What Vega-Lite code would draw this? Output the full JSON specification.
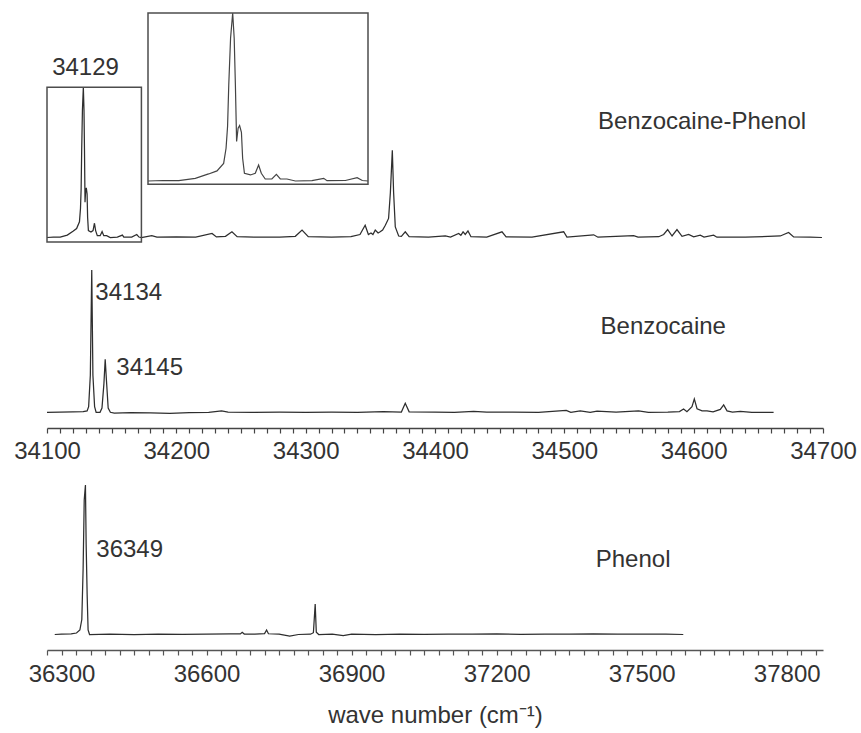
{
  "$schema": "https://vega.github.io/schema/vega-lite/v6.json",
  "padding": {"left": 13, "top": 0, "right": 5, "bottom": 5},
  "config": {"view": {"stroke": null}, "font": "Liberation Sans"},
  "datasets": {
    "bp": [
      {"w": 34100, "i": 0}, {"w": 34105, "i": 0.003}, {"w": 34110.2, "i": 0.002}, {"w": 34115.7, "i": 0.016},
      {"w": 34120.1, "i": 0.042}, {"w": 34122.9, "i": 0.06}, {"w": 34125.1, "i": 0.105}, {"w": 34125.9, "i": 0.195},
      {"w": 34126.4, "i": 0.324}, {"w": 34126.8, "i": 0.573}, {"w": 34127.4, "i": 0.851}, {"w": 34128.1, "i": 1.0},
      {"w": 34128.6, "i": 0.85}, {"w": 34129.0, "i": 0.57}, {"w": 34129.4, "i": 0.235}, {"w": 34129.9, "i": 0.314},
      {"w": 34130.4, "i": 0.33}, {"w": 34131.0, "i": 0.29}, {"w": 34131.4, "i": 0.135}, {"w": 34132.0, "i": 0.046},
      {"w": 34134.0, "i": 0.036}, {"w": 34135.6, "i": 0.046}, {"w": 34136.7, "i": 0.095}, {"w": 34137.6, "i": 0.046},
      {"w": 34138.9, "i": 0.012}, {"w": 34141.1, "i": 0.012}, {"w": 34142.6, "i": 0.04}, {"w": 34143.9, "i": 0.012},
      {"w": 34146.1, "i": 0.012}, {"w": 34148.9, "i": 0}, {"w": 34154.4, "i": 0.002}, {"w": 34158.3, "i": 0.016},
      {"w": 34159.4, "i": 0.002}, {"w": 34165.5, "i": 0.003}, {"w": 34169.4, "i": 0.02}, {"w": 34171.1, "i": 0.003},
      {"w": 34173, "i": 0}, {"w": 34181, "i": 0.012}, {"w": 34185, "i": 0.002}, {"w": 34200, "i": 0.004},
      {"w": 34215, "i": 0.002}, {"w": 34227.6, "i": 0.027}, {"w": 34231, "i": 0.004}, {"w": 34238, "i": 0.008},
      {"w": 34243, "i": 0.038}, {"w": 34247, "i": 0.006}, {"w": 34260, "i": 0.003}, {"w": 34280, "i": 0.002},
      {"w": 34292, "i": 0.008}, {"w": 34297.2, "i": 0.049}, {"w": 34302, "i": 0.005}, {"w": 34320, "i": 0.002},
      {"w": 34335, "i": 0.006}, {"w": 34342, "i": 0.02}, {"w": 34346, "i": 0.082}, {"w": 34348.5, "i": 0.02},
      {"w": 34350.5, "i": 0.03}, {"w": 34352, "i": 0.02}, {"w": 34353.8, "i": 0.049}, {"w": 34356, "i": 0.03},
      {"w": 34357.6, "i": 0.038}, {"w": 34359.5, "i": 0.05}, {"w": 34361.6, "i": 0.082}, {"w": 34364.1, "i": 0.127},
      {"w": 34365.5, "i": 0.3}, {"w": 34367, "i": 0.58}, {"w": 34368, "i": 0.3}, {"w": 34369.3, "i": 0.07},
      {"w": 34371.9, "i": 0.01}, {"w": 34374, "i": 0.008}, {"w": 34377, "i": 0.038}, {"w": 34380, "i": 0.005},
      {"w": 34395, "i": 0.003}, {"w": 34408, "i": 0.01}, {"w": 34412, "i": 0.003}, {"w": 34418.3, "i": 0.027},
      {"w": 34420, "i": 0.015}, {"w": 34421.7, "i": 0.038}, {"w": 34423.4, "i": 0.02}, {"w": 34425.5, "i": 0.044},
      {"w": 34427.8, "i": 0.005}, {"w": 34440, "i": 0.002}, {"w": 34451.8, "i": 0.038}, {"w": 34455, "i": 0.004},
      {"w": 34475, "i": 0.002}, {"w": 34499.5, "i": 0.038}, {"w": 34502, "i": 0.003}, {"w": 34522.7, "i": 0.018},
      {"w": 34526, "i": 0.002}, {"w": 34553.6, "i": 0.012}, {"w": 34557, "i": 0.002}, {"w": 34573, "i": 0.005},
      {"w": 34576.8, "i": 0.02}, {"w": 34579.9, "i": 0.053}, {"w": 34583.3, "i": 0.01}, {"w": 34587.1, "i": 0.053},
      {"w": 34591, "i": 0.008}, {"w": 34596.1, "i": 0.02}, {"w": 34600, "i": 0.004}, {"w": 34605.1, "i": 0.015},
      {"w": 34608, "i": 0.003}, {"w": 34615.4, "i": 0.016}, {"w": 34618, "i": 0.002}, {"w": 34640, "i": 0.002},
      {"w": 34667, "i": 0.01}, {"w": 34673.4, "i": 0.033}, {"w": 34677.3, "i": 0.004}, {"w": 34690, "i": 0.002},
      {"w": 34699.2, "i": 0}
    ],
    "bz": [
      {"w": 34100, "i": 0}, {"w": 34110, "i": 0.002}, {"w": 34120, "i": 0.003}, {"w": 34128, "i": 0.004},
      {"w": 34131, "i": 0.01}, {"w": 34132.2, "i": 0.04}, {"w": 34133.5, "i": 0.26}, {"w": 34134.6, "i": 1.0},
      {"w": 34135.5, "i": 0.26}, {"w": 34136.8, "i": 0.04}, {"w": 34138, "i": 0.0}, {"w": 34141, "i": 0.0},
      {"w": 34142.5, "i": 0.03}, {"w": 34144, "i": 0.2}, {"w": 34145, "i": 0.372}, {"w": 34146, "i": 0.22},
      {"w": 34147.3, "i": 0.03}, {"w": 34149, "i": 0.0}, {"w": 34152, "i": -0.005}, {"w": 34165, "i": -0.003},
      {"w": 34180, "i": -0.004}, {"w": 34195, "i": -0.008}, {"w": 34210, "i": -0.002}, {"w": 34225, "i": 0.0},
      {"w": 34235, "i": 0.01}, {"w": 34240, "i": 0.002}, {"w": 34260, "i": 0.0}, {"w": 34280, "i": 0.002},
      {"w": 34300, "i": 0.0}, {"w": 34320, "i": 0.002}, {"w": 34340, "i": 0.0}, {"w": 34360, "i": 0.004},
      {"w": 34374, "i": 0.002}, {"w": 34377, "i": 0.063}, {"w": 34380, "i": 0.003}, {"w": 34400, "i": 0.002},
      {"w": 34415, "i": 0.0}, {"w": 34429.9, "i": 0.006}, {"w": 34440, "i": 0.001}, {"w": 34460, "i": 0.002},
      {"w": 34480, "i": 0.0}, {"w": 34501.5, "i": 0.014}, {"w": 34505, "i": 0.0}, {"w": 34512.3, "i": 0.01},
      {"w": 34520, "i": 0.0}, {"w": 34525.3, "i": 0.008}, {"w": 34540, "i": 0.002}, {"w": 34557.4, "i": 0.01},
      {"w": 34565, "i": 0.0}, {"w": 34580, "i": 0.001}, {"w": 34589, "i": 0.005}, {"w": 34592.2, "i": 0.023},
      {"w": 34594.8, "i": 0.004}, {"w": 34598.7, "i": 0.04}, {"w": 34600.5, "i": 0.094}, {"w": 34602.6, "i": 0.025},
      {"w": 34606.5, "i": 0.01}, {"w": 34610.3, "i": 0.01}, {"w": 34615, "i": 0.003}, {"w": 34620.6, "i": 0.02},
      {"w": 34623.2, "i": 0.052}, {"w": 34625.8, "i": 0.01}, {"w": 34630, "i": 0.002}, {"w": 34636.1, "i": 0.006},
      {"w": 34645, "i": 0.0}, {"w": 34661.8, "i": 0}
    ],
    "ph": [
      {"w": 36286, "i": 0}, {"w": 36300, "i": 0.002}, {"w": 36320, "i": 0.004}, {"w": 36331, "i": 0.01},
      {"w": 36338, "i": 0.03}, {"w": 36342, "i": 0.1}, {"w": 36344.7, "i": 0.44}, {"w": 36347, "i": 0.9},
      {"w": 36349.5, "i": 1.0}, {"w": 36351, "i": 0.6}, {"w": 36353, "i": 0.27}, {"w": 36355, "i": 0.03},
      {"w": 36358, "i": 0.0}, {"w": 36400, "i": 0.002}, {"w": 36450, "i": 0.0}, {"w": 36500, "i": 0.003},
      {"w": 36550, "i": 0.001}, {"w": 36600, "i": 0.003}, {"w": 36650, "i": 0.004}, {"w": 36670, "i": 0.004},
      {"w": 36673.7, "i": 0.015}, {"w": 36678, "i": 0.003}, {"w": 36700, "i": 0.002}, {"w": 36720, "i": 0.006},
      {"w": 36724.2, "i": 0.03}, {"w": 36728, "i": 0.005}, {"w": 36750, "i": 0.003}, {"w": 36772, "i": -0.01},
      {"w": 36790, "i": 0.0}, {"w": 36815, "i": 0.002}, {"w": 36821, "i": 0.012}, {"w": 36824.7, "i": 0.204},
      {"w": 36827, "i": 0.015}, {"w": 36832, "i": 0.0}, {"w": 36860, "i": 0.002}, {"w": 36882.7, "i": -0.008},
      {"w": 36900, "i": 0.002}, {"w": 36950, "i": 0.0}, {"w": 37000, "i": 0.003}, {"w": 37050, "i": 0.001},
      {"w": 37100, "i": 0.003}, {"w": 37150, "i": 0.002}, {"w": 37200, "i": 0.004}, {"w": 37250, "i": 0.001},
      {"w": 37300, "i": 0.003}, {"w": 37350, "i": 0.002}, {"w": 37400, "i": 0.004}, {"w": 37450, "i": 0.002},
      {"w": 37500, "i": 0.003}, {"w": 37550, "i": 0.002}, {"w": 37586, "i": 0}
    ]
  },
  "spacing": 7,
  "vconcat": [
    {
      "width": 776,
      "height": 428,
      "resolve": {"scale": {"x": "independent", "y": "independent"}},
      "layer": [
        {
          "data": {"name": "bp"},
          "mark": {"type": "line", "color": "#2e2e2e", "strokeWidth": 1.25},
          "encoding": {
            "x": {
              "field": "w", "type": "quantitative",
              "scale": {"domain": [34100, 34700], "nice": false, "zero": false},
              "axis": {
                "values": [34100,34110,34120,34130,34140,34150,34160,34170,34180,34190,34200,34210,34220,34230,34240,34250,34260,34270,34280,34290,34300,34310,34320,34330,34340,34350,34360,34370,34380,34390,34400,34410,34420,34430,34440,34450,34460,34470,34480,34490,34500,34510,34520,34530,34540,34550,34560,34570,34580,34590,34600,34610,34620,34630,34640,34650,34660,34670,34680,34690,34700],
                "format": "d",
                "labelExpr": "datum.value % 100 === 0 ? datum.label : ''",
                "tickSize": 5,
                "labelPadding": 6,
                "labelFontSize": 24, "labelFont": "Liberation Sans", "labelColor": "#333",
                "labelFlush": false, "labelOverlap": false,
                "domainColor": "#444", "domainWidth": 1.5, "tickColor": "#444", "tickWidth": 1.2,
                "grid": false, "title": null
              }
            },
            "y": {"field": "i", "type": "quantitative", "scale": {"domain": [0, 1], "range": [237.5, 87.3], "nice": false, "zero": false}, "axis": null}
          }
        },
        {
          "data": {"values": [{"a": 34100, "b": 34173, "lo": -0.03, "hi": 1.0}]},
          "mark": {"type": "rect", "fill": null, "stroke": "#4d4d4d", "strokeWidth": 1.5},
          "encoding": {
            "x": {"field": "a", "type": "quantitative", "scale": {"domain": [34100, 34700], "nice": false, "zero": false}, "axis": null},
            "x2": {"field": "b"},
            "y": {"field": "lo", "type": "quantitative", "scale": {"domain": [0, 1], "range": [237.5, 87.3], "nice": false, "zero": false}, "axis": null},
            "y2": {"field": "hi"}
          }
        },
        {
          "data": {"name": "bp"},
          "transform": [{"filter": "datum.w <= 34173"}],
          "mark": {"type": "line", "color": "#444", "strokeWidth": 1.2},
          "encoding": {
            "x": {"field": "w", "type": "quantitative", "scale": {"domain": [34100, 34173], "range": [101, 321], "nice": false, "zero": false}, "axis": null},
            "y": {"field": "i", "type": "quantitative", "scale": {"domain": [0, 1], "range": [181, 13], "nice": false, "zero": false}, "axis": null}
          }
        },
        {
          "data": {"values": [{"a": 34100, "b": 34173, "lo": -0.02, "hi": 1.0}]},
          "mark": {"type": "rect", "fill": null, "stroke": "#4d4d4d", "strokeWidth": 1.5},
          "encoding": {
            "x": {"field": "a", "type": "quantitative", "scale": {"domain": [34100, 34173], "range": [101, 321], "nice": false, "zero": false}, "axis": null},
            "x2": {"field": "b"},
            "y": {"field": "lo", "type": "quantitative", "scale": {"domain": [0, 1], "range": [181, 13], "nice": false, "zero": false}, "axis": null},
            "y2": {"field": "hi"}
          }
        },
        {
          "data": {"name": "bz"},
          "mark": {"type": "line", "color": "#2e2e2e", "strokeWidth": 1.25},
          "encoding": {
            "x": {"field": "w", "type": "quantitative", "scale": {"domain": [34100, 34700], "nice": false, "zero": false}, "axis": null},
            "y": {"field": "i", "type": "quantitative", "scale": {"domain": [0, 1], "range": [412.3, 270], "nice": false, "zero": false}, "axis": null}
          }
        },
        {
          "data": {"values": [
            {"w": 34104, "i": 1.13, "t": "34129"},
            {"w": 34526, "i": 0.768, "t": "Benzocaine-Phenol"}
          ]},
          "mark": {"type": "text", "align": "left", "baseline": "middle", "font": "Liberation Sans", "fontSize": 24, "color": "#333"},
          "encoding": {
            "x": {"field": "w", "type": "quantitative", "scale": {"domain": [34100, 34700], "nice": false, "zero": false}, "axis": null},
            "y": {"field": "i", "type": "quantitative", "scale": {"domain": [0, 1], "range": [237.5, 87.3], "nice": false, "zero": false}, "axis": null},
            "text": {"field": "t"}
          }
        },
        {
          "data": {"values": [
            {"w": 34137.4, "i": 0.84, "t": "34134"},
            {"w": 34153.6, "i": 0.31, "t": "34145"},
            {"w": 34528, "i": 0.6, "t": "Benzocaine"}
          ]},
          "mark": {"type": "text", "align": "left", "baseline": "middle", "font": "Liberation Sans", "fontSize": 24, "color": "#333"},
          "encoding": {
            "x": {"field": "w", "type": "quantitative", "scale": {"domain": [34100, 34700], "nice": false, "zero": false}, "axis": null},
            "y": {"field": "i", "type": "quantitative", "scale": {"domain": [0, 1], "range": [412.3, 270], "nice": false, "zero": false}, "axis": null},
            "text": {"field": "t"}
          }
        }
      ]
    },
    {
      "width": 776,
      "height": 180,
      "encoding": {
        "x": {
          "field": "w", "type": "quantitative",
          "scale": {"domain": [36270, 37875], "nice": false, "zero": false},
          "axis": {
            "values": [36270,36300,36330,36360,36390,36420,36450,36480,36510,36540,36570,36600,36630,36660,36690,36720,36750,36780,36810,36840,36870,36900,36930,36960,36990,37020,37050,37080,37110,37140,37170,37200,37230,37260,37290,37320,37350,37380,37410,37440,37470,37500,37530,37560,37590,37620,37650,37680,37710,37740,37770,37800,37830,37860],
            "format": "d",
            "labelExpr": "(datum.value - 36300) % 300 === 0 ? datum.label : ''",
            "tickSize": 5,
            "labelPadding": 7,
            "labelFontSize": 24, "labelFont": "Liberation Sans", "labelColor": "#333",
            "labelFlush": false, "labelOverlap": false,
            "domainColor": "#555", "domainWidth": 1.5, "tickColor": "#555", "tickWidth": 1.2,
            "grid": false,
            "title": "wave number (cm⁻¹)",
            "titleFont": "Liberation Sans", "titleFontSize": 24, "titleFontWeight": "normal", "titleColor": "#333",
            "titlePadding": 17
          }
        },
        "y": {"field": "i", "type": "quantitative", "scale": {"domain": [0, 1], "range": [164.5, 15], "nice": false, "zero": false}, "axis": null}
      },
      "layer": [
        {
          "data": {"name": "ph"},
          "mark": {"type": "line", "color": "#2e2e2e", "strokeWidth": 1.25}
        },
        {
          "data": {"values": [
            {"w": 36372, "i": 0.567, "t": "36349"},
            {"w": 37405, "i": 0.5, "t": "Phenol"}
          ]},
          "mark": {"type": "text", "align": "left", "baseline": "middle", "font": "Liberation Sans", "fontSize": 24, "color": "#333"},
          "encoding": {"text": {"field": "t"}}
        }
      ]
    }
  ]
}
